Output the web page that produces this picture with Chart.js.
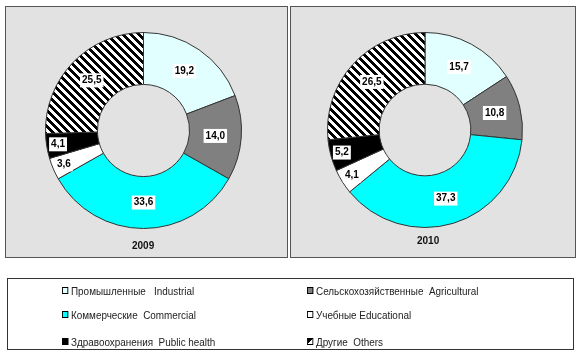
<!DOCTYPE html>
<html><head><meta charset="utf-8">
<script src="https://cdn.jsdelivr.net/npm/chart.js@4/dist/chart.umd.min.js"></script>
<style>
body{margin:0;background:#fff;width:579px;height:356px;position:relative;overflow:hidden;font-family:"Liberation Sans",Arial,sans-serif;}
.panel{position:absolute;top:6px;height:250px;background:#e2e2e2;border:1px solid #555;}
.panel canvas{position:absolute;left:0;top:0;}
.year{position:absolute;font-weight:bold;font-size:10px;color:#111;}
#legend{position:absolute;left:7px;top:278px;width:565px;height:70px;border:1px solid #333;background:#fff;}
.li{position:absolute;font-size:11px;line-height:13px;color:#222;white-space:pre;transform:scaleX(0.9);transform-origin:left center;}
.mk{display:inline-block;width:5px;height:5px;border:1px solid #000;margin-right:3px;vertical-align:1px;}
</style></head><body>
<div class="panel" id="p1" style="left:5px;width:281px;"><canvas id="c1"></canvas><div class="year" style="left:126px;top:233px;">2009</div></div>
<div class="panel" id="p2" style="left:290px;width:284px;"><canvas id="c2"></canvas><div class="year" style="left:126px;top:228px;">2010</div></div>
<div id="legend"></div>
<script>
const categories = ["Промышленные   Industrial","Сельскохозяйственные  Agricultural","Коммерческие  Commercial","Учебные Educational","Здравоохранения  Public health","Другие  Others"];
const years = ["2009","2010"];
const values2009 = [19.2, 14.0, 33.6, 3.6, 4.1, 25.5];
const values2010 = [15.7, 10.8, 37.3, 4.1, 5.2, 26.5];
const labels2009 = ["19,2","14,0","33,6","3,6","4,1","25,5"];
const labels2010 = ["15,7","10,8","37,3","4,1","5,2","26,5"];

function stripe(){
  const n=8;
  const c=document.createElement('canvas');c.width=n;c.height=n;
  const g=c.getContext('2d');g.fillStyle='#fff';g.fillRect(0,0,n,n);
  g.fillStyle='#000';
  for(let y=0;y<n;y++)for(let x=0;x<n;x++){ if(((x-y)%n+n)%n<4) g.fillRect(x,y,1,1); }
  return g.createPattern(c,'repeat');
}
const pat = stripe();
const colors = ['#e2ffff','#808080','#00ffff','#ffffff','#000000',pat];

const labelPlugin = {
  id:'boxlabels',
  afterDatasetsDraw(chart){
    const ctx=chart.ctx;const meta=chart.getDatasetMeta(0);
    const txt=chart.options.plugins.boxlabels.texts;
    ctx.save();ctx.font='bold 10px "Liberation Sans", Arial';ctx.textAlign='center';ctx.textBaseline='middle';
    meta.data.forEach((arc,i)=>{
      const pr=arc.getProps(['x','y','startAngle','endAngle','innerRadius','outerRadius']);
      const a=(pr.startAngle+pr.endAngle)/2;
      const small=(pr.endAngle-pr.startAngle)<0.4;
      const r=pr.innerRadius+(pr.outerRadius-pr.innerRadius)*(small?0.78:0.5);
      const p={x:pr.x+Math.cos(a)*r,y:pr.y+Math.sin(a)*r};
      const w=ctx.measureText(txt[i]).width+4;
      ctx.fillStyle='#fff';ctx.fillRect(p.x-w/2,p.y-7,w,14);
      ctx.fillStyle='#000';ctx.fillText(txt[i],p.x,p.y);
    });
    ctx.restore();
  }
};

function make(id, w, h, data, texts, pad){
  const cv=document.getElementById(id);cv.width=w;cv.height=h;cv.style.width=w+'px';cv.style.height=h+'px';
  new Chart(cv,{type:'doughnut',
    data:{labels:categories,datasets:[{data:data,backgroundColor:colors,borderColor:'#333',borderWidth:1}]},
    options:{responsive:false,animation:false,cutout:'47%',layout:{padding:pad},
      plugins:{legend:{display:false},tooltip:{enabled:false},boxlabels:{texts:texts}}},
    plugins:[labelPlugin]});
}
make('c1',281,250,values2009,labels2009,{left:39,right:45,top:25,bottom:28});
make('c2',284,250,values2010,labels2010,{left:36,right:52,top:25,bottom:29});

const lg=document.getElementById('legend');
const pos=[[54,6],[299,6],[54,30],[299,30],[54,57],[299,57]];
categories.forEach((c,i)=>{
  const d=document.createElement('div');d.className='li';d.style.left=pos[i][0]+'px';d.style.top=pos[i][1]+'px';
  const m=document.createElement('span');m.className='mk';
  if(i===5){m.style.background='linear-gradient(135deg,#000 50%,#fff 50%)';}
  else m.style.background=colors[i];
  d.appendChild(m);d.appendChild(document.createTextNode(c));lg.appendChild(d);
});
</script>
</body></html>
